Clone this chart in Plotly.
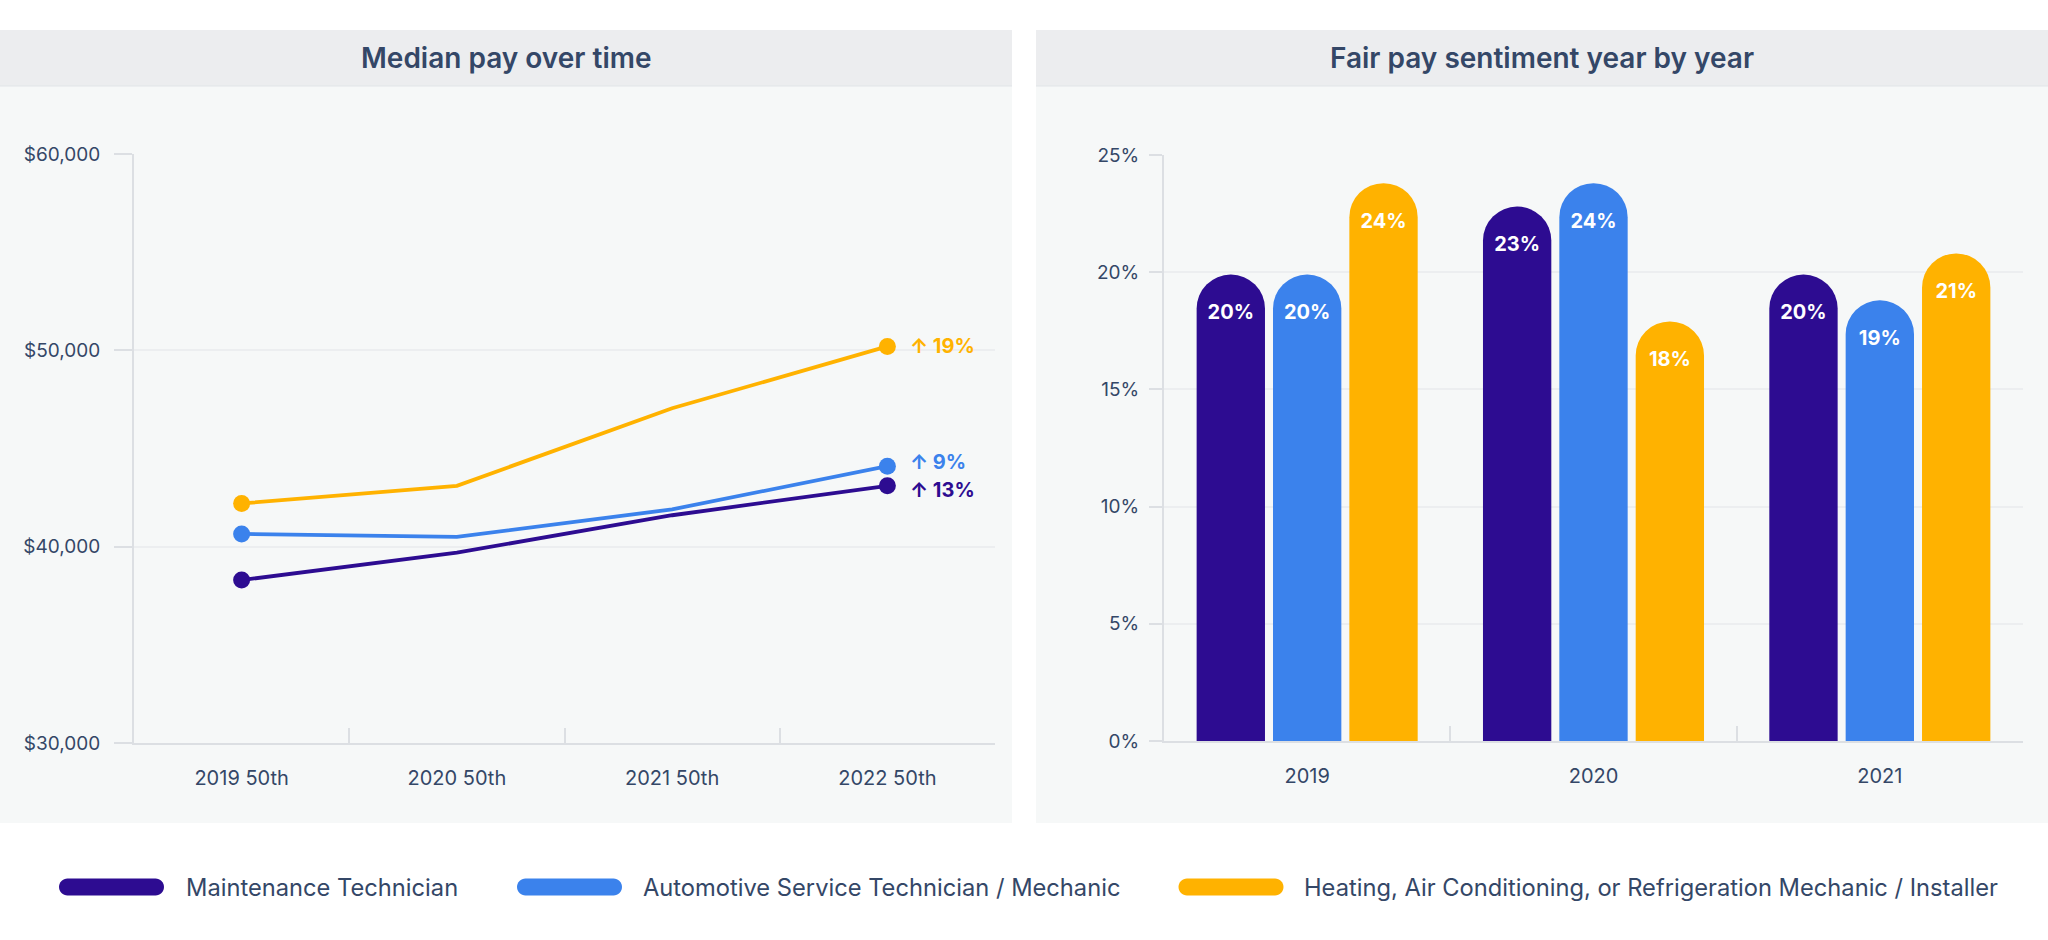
import plotly.graph_objects as go

# ---------------- data ----------------
series_names = [
    "Maintenance Technician",
    "Automotive Service Technician / Mechanic",
    "Heating, Air Conditioning, or Refrigeration Mechanic / Installer",
]
series_colors = ["#2d0c91", "#3b82ec", "#ffb200"]

pay_periods = ["2019 50th", "2020 50th", "2021 50th", "2022 50th"]
pay_maintenance = [38300, 39700, 41600, 43100]
pay_automotive = [40650, 40500, 41900, 44100]
pay_hvac = [42200, 43100, 47050, 50200]
pay_change_labels = ["↑ 13%", "↑ 9%", "↑ 19%"]

sent_years = ["2019", "2020", "2021"]
sent_maintenance = [19.9, 22.8, 19.9]
sent_automotive = [19.9, 23.8, 18.8]
sent_hvac = [23.8, 17.9, 20.8]

title_left = "Median pay over time"
title_right = "Fair pay sentiment year by year"

# ---------------- layout helpers ----------------
W, H = 2048, 940
def px(x):
    return x / W
def py(y):
    return (H - y) / H

TEXT = "#344767"
GRID = "#eceef0"
AXIS = "#dcdfe3"
HEADER = "#ecedef"
BODY = "#f6f8f8"
FONT = "Inter"

fig = go.Figure()

pay_series = [pay_maintenance, pay_automotive, pay_hvac]
for name, color, vals in zip(series_names, series_colors, pay_series):
    sizes = [17 if i in (0, len(vals) - 1) else 0 for i in range(len(vals))]
    fig.add_trace(go.Scatter(
        x=pay_periods, y=vals, name=name, mode="lines+markers",
        offsetgroup="lines", alignmentgroup="lines",
        line=dict(color=color, width=3.8),
        marker=dict(color=color, size=sizes, opacity=1, line=dict(width=0)),
        xaxis="x", yaxis="y", showlegend=False, hoverinfo="skip",
    ))

sent_series = [sent_maintenance, sent_automotive, sent_hvac]
groups = ["g1", "g2", "g3"]
for name, color, vals, g in zip(series_names, series_colors, sent_series, groups):
    fig.add_trace(go.Bar(
        x=sent_years, y=vals, name=name, offsetgroup=g,
        marker=dict(color=color, cornerradius="50%", line=dict(width=0)),
        xaxis="x2", yaxis="y2", showlegend=False, hoverinfo="skip",
    ))
# value labels, placed just under each bar's top via grouped scatter text
for name, color, vals, g in zip(series_names, series_colors, sent_series, groups):
    fig.add_trace(go.Scatter(
        x=sent_years, y=vals, name=name, offsetgroup=g, mode="markers+text",
        marker=dict(size=46, opacity=0, color=color),
        text=[f"{v:.0f}%" for v in vals], textposition="bottom center",
        textfont=dict(color="white", size=20, family=FONT, weight=700),
        xaxis="x2", yaxis="y2", showlegend=False, hoverinfo="skip", cliponaxis=False,
    ))

# end-of-line change labels (small vertical nudges keep the two close labels apart)
label_yshift = [-4, 4, 0]
annotations = []
for name, color, vals, lab, ys in zip(series_names, series_colors, pay_series,
                                      pay_change_labels, label_yshift):
    annotations.append(dict(
        x=pay_periods[-1], y=vals[-1], xref="x", yref="y",
        text=lab, showarrow=False, xanchor="left", yanchor="middle",
        xshift=21, yshift=ys, font=dict(color=color, size=20, family=FONT, weight=700),
    ))

# panel titles
annotations.append(dict(x=px(506), y=py(58), xref="paper", yref="paper", text=title_left,
                        showarrow=False, xanchor="center", yanchor="middle",
                        font=dict(size=28, color=TEXT, family=FONT, weight=600)))
annotations.append(dict(x=px(1542), y=py(58), xref="paper", yref="paper", text=title_right,
                        showarrow=False, xanchor="center", yanchor="middle",
                        font=dict(size=28, color=TEXT, family=FONT, weight=600)))

shapes = []
# panel backgrounds
for x0, x1 in [(0, 1012), (1036, 2048)]:
    shapes.append(dict(type="rect", xref="paper", yref="paper", x0=px(x0), x1=px(x1),
                       y0=py(86), y1=py(30), fillcolor=HEADER, line=dict(width=0), layer="below"))
    shapes.append(dict(type="rect", xref="paper", yref="paper", x0=px(x0), x1=px(x1),
                       y0=py(823), y1=py(86), fillcolor=BODY, line=dict(width=0), layer="below"))
    shapes.append(dict(type="line", xref="paper", yref="paper", x0=px(x0), x1=px(x1),
                       y0=py(86), y1=py(86), line=dict(color="#e1e4e7", width=1), layer="below"))

# custom legend: pill swatches + labels
def pill_path(w, h):
    r = h / 2
    a = w / 2 - r
    k = 0.5523 * r
    return (f"M {-a},{-r} L {a},{-r} "
            f"C {a+k},{-r} {a+r},{-k} {a+r},0 "
            f"C {a+r},{k} {a+k},{r} {a},{r} "
            f"L {-a},{r} "
            f"C {-a-k},{r} {-a-r},{k} {-a-r},0 "
            f"C {-a-r},{-k} {-a-k},{-r} {-a},{-r} Z")

legend_pill_x = [111.5, 569.5, 1231]
legend_text_x = [184, 641, 1302]
legend_y = 887
for name, color, cx, tx in zip(series_names, series_colors, legend_pill_x, legend_text_x):
    shapes.append(dict(type="path", xref="paper", yref="paper",
                       xsizemode="pixel", ysizemode="pixel",
                       xanchor=px(cx), yanchor=py(legend_y),
                       path=pill_path(105, 17), fillcolor=color, line=dict(width=0)))
    annotations.append(dict(x=px(tx), y=py(legend_y), xref="paper", yref="paper", text=name,
                            showarrow=False, xanchor="left", yanchor="middle",
                            font=dict(size=23.7, color=TEXT, family=FONT)))

fig.update_layout(
    width=W, height=H, margin=dict(l=0, r=0, t=0, b=0, autoexpand=False),
    paper_bgcolor="white", plot_bgcolor="rgba(0,0,0,0)",
    showlegend=False, barmode="group", bargap=0.2, bargroupgap=0.105,
    scattermode="group", scattergap=0.2,
    font=dict(family=FONT, color=TEXT),
    shapes=shapes, annotations=annotations,
    xaxis=dict(domain=[px(134), px(995)], anchor="y", type="category", automargin=False,
               range=[-0.5, 3.5], showgrid=False, showline=True, linecolor=AXIS, linewidth=2,
               ticks="inside", tickson="boundaries", ticklen=15, tickcolor=AXIS, tickwidth=1.5,
               ticklabelstandoff=16, tickfont=dict(size=20, color=TEXT), zeroline=False),
    yaxis=dict(domain=[py(743), py(154)], anchor="x", range=[30000, 60000], dtick=10000,
               automargin=False,
               tickformat="$,.0f", showgrid=True, gridcolor=GRID, gridwidth=2,
               showline=True, linecolor=AXIS, linewidth=2, ticks="outside", ticklen=18,
               tickcolor=AXIS, tickwidth=1.5, ticklabelstandoff=10,
               tickfont=dict(size=19, color=TEXT), zeroline=False),
    xaxis2=dict(domain=[px(1164), px(2023)], anchor="y2", type="category", automargin=False,
                range=[-0.5, 2.5], showgrid=False, showline=True, linecolor=AXIS, linewidth=2,
                ticks="inside", tickson="boundaries", ticklen=15, tickcolor=AXIS, tickwidth=1.5,
                ticklabelstandoff=16, tickfont=dict(size=20, color=TEXT), zeroline=False),
    yaxis2=dict(domain=[py(741), py(155)], anchor="x2", range=[0, 25], dtick=5,
                automargin=False,
                ticksuffix="%", showgrid=True, gridcolor=GRID, gridwidth=2,
                showline=True, linecolor=AXIS, linewidth=2, ticks="outside", ticklen=13,
                tickcolor=AXIS, tickwidth=1.5, ticklabelstandoff=6,
                tickfont=dict(size=19, color=TEXT), zeroline=False),
)

post = ("document.documentElement.style.margin='0';document.documentElement.style.padding='0';"
        "document.documentElement.style.overflow='hidden';"
        "document.body.style.margin='0';document.body.style.padding='0';"
        "document.body.style.overflow='hidden';")
fig.write_html("out.html", config={"displayModeBar": False}, post_script=post)
